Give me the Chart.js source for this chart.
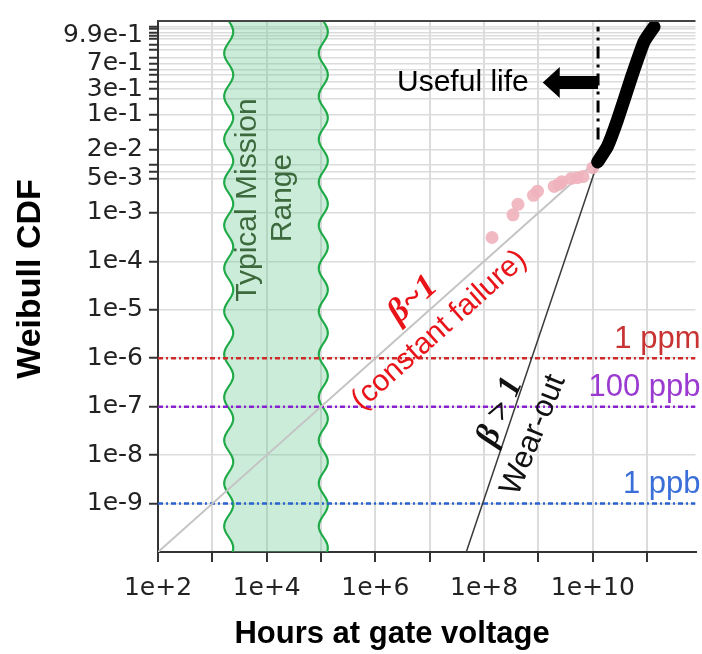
<!DOCTYPE html>
<html>
<head>
<meta charset="utf-8">
<script src="https://cdn.jsdelivr.net/npm/chart.js@4.4.1/dist/chart.umd.min.js"></script>
<style>
  html, body { margin: 0; padding: 0; background: #fff; }
  #wrap { width: 702px; height: 654px; }
</style>
</head>
<body>
<div id="wrap"><canvas id="myChart" width="702" height="654"></canvas></div>
<script>
// axis ticks (grid lines at every value, labels only where listed)
const yGridValues = [0.999, 0.998, 0.995, 0.99, 0.98, 0.95, 0.9, 0.8, 0.7, 0.6, 0.5, 0.4, 0.3, 0.2, 0.1,
  0.05, 0.02, 0.01, 0.007, 0.005, 1e-3, 1e-4, 1e-5, 1e-6, 1e-7, 1e-8, 1e-9];
const yTickLabels = ["9.9e-1", "7e-1", "3e-1", "1e-1", "2e-2", "5e-3", "1e-3", "1e-4", "1e-5", "1e-6", "1e-7", "1e-8", "1e-9"];
const xGridValues = [1e2, 1e3, 1e4, 1e5, 1e6, 1e7, 1e8, 1e9, 1e10, 1e11];
const xTickLabels = ["1e+2", "1e+4", "1e+6", "1e+8", "1e+10"];

// beta ~ 1 fit (constant failure)
const constHours = [1e2, 1.2e10];
const constCdf = [1.0e-10, 1.2e-2];
// beta > 1 fit (wear-out)
const wearHours = [4.7e7, 1.3e10];
const wearCdf = [1.0e-10, 1.3e-2];
// early failures (pink)
const failHours = [1.4e8, 3.4e8, 4.2e8, 8.1e8, 9.6e8, 1.95e9, 2.4e9, 2.7e9, 4.0e9, 5.2e9, 6.6e9, 1.0e10];
const failCdf = [3.1e-4, 9.1e-4, 1.5e-3, 2.3e-3, 2.8e-3, 3.5e-3, 3.9e-3, 4.4e-3, 5.1e-3, 5.3e-3, 5.6e-3, 8.5e-3];
// main population (black)
const bulkHours = [1.23e10, 1.87e10, 2.85e10, 5.1e10, 8.8e10, 1.34e11];
const bulkCdf = [1.12e-2, 2.35e-2, 7.95e-2, 0.457, 0.967, 0.999];
// reference levels
const limitNames = ["1 ppm", "100 ppb", "1 ppb"];
const limitCdf = [1e-6, 1e-7, 1e-9];
const limitColors = ["#d02a2a", "#8a22d0", "#2a62d0"];
const limitTextColors = ["#c83434", "#9a3ad0", "#3a6ed8"];
// useful life marker and mission band
const usefulLifeHours = 1.25e10;
const usefulLifeCdf = [0.032, 0.999];
const usefulLifeArrowTip = 1.2e9;
const missionRange = [2.0e3, 1.1e5];

const xMax = Math.pow(10, 11.89);
const yMinCdf = 1e-10;
const yMaxCdf = 0.99989;

// Weibull plotting position
function weib(F) { return Math.log(-Math.log1p(-F)); }
function pts(xs, fs) { return xs.map((x, i) => ({ x: x, y: weib(fs[i]) })); }

const tickFont = { family: "DejaVu Sans", size: 25 };

function rotText(ctx, text, font, color, x, y, rot) {
  ctx.save();
  ctx.font = font;
  ctx.fillStyle = color;
  ctx.textAlign = "center";
  ctx.textBaseline = "middle";
  ctx.translate(x, y);
  ctx.rotate(rot);
  ctx.fillText(text, 0, 0);
  ctx.restore();
}

const decorations = {
  id: "decorations",
  beforeDatasetsDraw(chart) {
    const { ctx, chartArea: a, scales } = chart;
    const x0 = scales.x.getPixelForValue(missionRange[0]);
    const x1 = scales.x.getPixelForValue(missionRange[1]);
    const amp = 4.5, wl = 43;
    ctx.save();
    ctx.beginPath();
    ctx.rect(a.left, a.top, a.right - a.left, a.bottom - a.top);
    ctx.clip();
    const edge = (x, y) => x + amp * Math.sin((y - a.top) / wl * 2 * Math.PI);
    ctx.beginPath();
    for (let y = a.top; y <= a.bottom; y += 1) ctx.lineTo(edge(x0, y), y);
    for (let y = a.bottom; y >= a.top; y -= 1) ctx.lineTo(edge(x1, y), y);
    ctx.closePath();
    ctx.fillStyle = "rgba(110,200,150,0.35)";
    ctx.fill();
    ctx.strokeStyle = "#1faa48";
    ctx.lineWidth = 2.2;
    [x0, x1].forEach(xx => {
      ctx.beginPath();
      for (let y = a.top; y <= a.bottom; y += 1) ctx.lineTo(edge(xx, y), y);
      ctx.stroke();
    });
    ctx.restore();

    // band text
    const cx = (x0 + x1) / 2;
    rotText(ctx, "Typical Mission", "30px 'Liberation Sans'", "#3d6a3d", cx - 28, 200, -Math.PI / 2);
    rotText(ctx, "Range", "30px 'Liberation Sans'", "#3d6a3d", cx + 7, 198, -Math.PI / 2);
  },
  afterDatasetsDraw(chart) {
    const { ctx, chartArea: a, scales } = chart;
    const xs = scales.x, ys = scales.y;
    ctx.save();
    // top frame line
    ctx.strokeStyle = "#444";
    ctx.lineWidth = 2;
    ctx.beginPath();
    ctx.moveTo(a.left, a.top);
    ctx.lineTo(a.right, a.top);
    ctx.stroke();

    // reference level labels
    ctx.font = "31px 'Liberation Sans'";
    ctx.textAlign = "right";
    ctx.textBaseline = "middle";
    limitNames.forEach((n, i) => {
      ctx.fillStyle = limitTextColors[i];
      ctx.fillText(n, a.right + 5, ys.getPixelForValue(weib(limitCdf[i])) - 19);
    });

    // useful life arrow
    const ay = ys.getPixelForValue(weib(0.386));
    const tip = xs.getPixelForValue(usefulLifeArrowTip);
    const base = xs.getPixelForValue(usefulLifeHours);
    ctx.fillStyle = "#000";
    ctx.beginPath();
    ctx.moveTo(tip, ay);
    ctx.lineTo(tip + 17, ay - 15.5);
    ctx.lineTo(tip + 17, ay - 6.5);
    ctx.lineTo(base, ay - 6.5);
    ctx.lineTo(base, ay + 6.5);
    ctx.lineTo(tip + 17, ay + 6.5);
    ctx.lineTo(tip + 17, ay + 15.5);
    ctx.closePath();
    ctx.fill();
    ctx.font = "30px 'Liberation Sans'";
    ctx.textAlign = "right";
    ctx.fillText("Useful life", tip - 14, ay);

    // rotated annotations along the fits
    const ang = (hx, fy) => {
      const p0 = [xs.getPixelForValue(hx[0]), ys.getPixelForValue(weib(fy[0]))];
      const p1 = [xs.getPixelForValue(hx[1]), ys.getPixelForValue(weib(fy[1]))];
      return Math.atan2(p1[1] - p0[1], p1[0] - p0[0]);
    };
    const at = (hx, fy) => [xs.getPixelForValue(hx), ys.getPixelForValue(weib(fy))];
    const aConst = ang(constHours, constCdf);
    const aWear = ang(wearHours, wearCdf);
    let p = at(4.9e6, 1.6e-5);
    rotText(ctx, "\u03B2~1", "bold italic 34px 'Liberation Serif'", "#e8141a", p[0], p[1], aConst);
    p = at(1.5e7, 3.8e-6);
    rotText(ctx, "(constant failure)", "30px 'Liberation Sans'", "#e8141a", p[0], p[1], aConst);
    p = at(2.0e8, 7.9e-8);
    rotText(ctx, "\u03B2 > 1", "bold italic 34px 'Liberation Serif'", "#111", p[0], p[1], aWear + 0.08);
    p = at(8.1e8, 2.6e-8);
    rotText(ctx, "Wear-out", "31px 'Liberation Sans'", "#111", p[0], p[1], aWear + 0.06);

    // axis titles
    rotText(ctx, "Weibull CDF", "bold 34px 'Liberation Sans'", "#000", 31, 279, -Math.PI / 2);
    rotText(ctx, "Hours at gate voltage", "bold 31px 'Liberation Sans'", "#000", 392, 634, 0);
    ctx.restore();
  }
};

const ctx = document.getElementById("myChart").getContext("2d");

const datasets = [
  {
    label: "population",
    data: pts(bulkHours, bulkCdf),
    showLine: true, borderColor: "#000", borderWidth: 13,
    borderCapStyle: "round", borderJoinStyle: "round", tension: 0.15,
    pointRadius: 0
  },
  {
    label: "useful life",
    data: pts([usefulLifeHours, usefulLifeHours], usefulLifeCdf),
    showLine: true, borderColor: "#000", borderWidth: 3, borderDash: [12, 6, 3, 6],
    pointRadius: 0
  },
  {
    label: "early failures",
    data: pts(failHours, failCdf),
    showLine: false, pointRadius: 6.5, pointBorderWidth: 0,
    backgroundColor: "rgba(240,178,188,0.9)", borderColor: "rgba(240,178,188,0.9)"
  },
  {
    label: "wear-out",
    data: pts(wearHours, wearCdf),
    showLine: true, borderColor: "#3a3a3a", borderWidth: 1.5, pointRadius: 0
  },
  {
    label: "constant",
    data: pts(constHours, constCdf),
    showLine: true, borderColor: "#c4c4c4", borderWidth: 2, pointRadius: 0
  }
];

limitCdf.forEach((f, i) => {
  datasets.push({
    label: limitNames[i],
    data: pts([1e2, xMax], [f, f]),
    showLine: true, borderColor: limitColors[i], borderWidth: 2.5,
    borderDash: [5, 3, 2, 3], pointRadius: 0
  });
});

new Chart(ctx, {
  type: "scatter",
  data: { datasets: datasets },
  options: {
    responsive: false,
    animation: false,
    layout: { padding: { top: 9, right: 0, left: 0, bottom: 0 } },
    plugins: { legend: { display: false }, tooltip: { enabled: false } },
    scales: {
      x: {
        type: "logarithmic",
        min: 1e2,
        max: xMax,
        afterBuildTicks: s => { s.ticks = xGridValues.map(v => ({ value: v })); },
        afterFit: s => { s.height = 102; },
        grid: { color: "#dcdcdc", lineWidth: 2, tickLength: 10, tickColor: "#333", tickWidth: 2 },
        border: { color: "#333", width: 2 },
        ticks: {
          autoSkip: false, maxRotation: 0, font: tickFont, color: "#222", padding: 11,
          callback: v => {
            const s = "1e+" + Math.round(Math.log10(v));
            return xTickLabels.includes(s) ? s : "";
          }
        }
      },
      y: {
        type: "linear",
        min: weib(yMinCdf),
        max: weib(yMaxCdf),
        afterBuildTicks: s => { s.ticks = yGridValues.map(v => ({ value: weib(v) })); },
        afterFit: s => { s.width = 158; },
        grid: { color: "#dcdcdc", lineWidth: 1.5, tickLength: 9, tickColor: "#333", tickWidth: 2 },
        border: { color: "#333", width: 2 },
        ticks: {
          autoSkip: false, font: tickFont, color: "#222", padding: 6,
          callback: v => {
            const lab = yTickLabels.find(t => Math.abs(weib(Number(t)) - v) < 1e-6);
            return lab || "";
          }
        }
      }
    }
  },
  plugins: [decorations]
});
</script>
</body>
</html>
